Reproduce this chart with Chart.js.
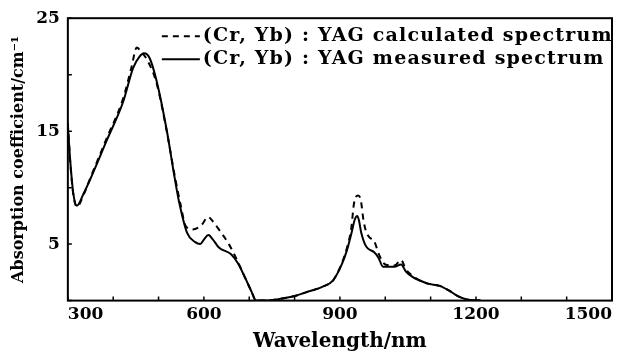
<!DOCTYPE html>
<html>
<head>
<meta charset="utf-8">
<script src="https://cdn.jsdelivr.net/npm/chart.js@4.4.1/dist/chart.umd.min.js"></script>
<style>
  html, body { margin: 0; padding: 0; background: #fff; }
  #wrap { width: 630px; height: 354px; position: relative; }
</style>
</head>
<body>
<div id="wrap"><canvas id="spectrum"></canvas></div>
<script>
// wavelength (nm) / absorption coefficient (cm^-1)
const measuredWl  = [300, 305, 312, 320, 335, 350, 386, 422, 444, 458, 468, 480, 496, 518, 535, 545, 563, 580, 592, 600, 610, 620, 633, 660, 675, 690, 705, 715, 740, 760, 800, 830, 860, 885, 905, 915, 925, 933, 938, 942, 947, 955, 962, 975, 985, 995, 1020, 1035, 1045, 1060, 1075, 1094, 1120, 1140, 1160, 1180, 1210];
const measuredAbs = [15.5, 12.5, 9.5, 8.4, 9.5, 10.8, 14.2, 17.6, 20.6, 21.6, 21.9, 21.5, 19.4, 15.1, 11.0, 8.8, 6.0, 5.2, 5.0, 5.4, 5.8, 5.4, 4.7, 4.1, 3.3, 2.1, 0.8, 0.0, 0.0, 0.1, 0.4, 0.8, 1.2, 1.8, 3.3, 4.4, 5.9, 7.2, 7.5, 7.1, 6.0, 5.0, 4.6, 4.3, 3.8, 3.0, 3.0, 3.2, 2.6, 2.1, 1.8, 1.5, 1.3, 0.9, 0.4, 0.1, 0.0];

const calcWl  = [300, 305, 312, 320, 335, 350, 386, 422, 440, 452, 462, 475, 496, 518, 535, 548, 560, 575, 595, 609, 620, 633, 655, 673, 690, 705, 715, 740, 760, 800, 830, 860, 885, 905, 915, 925, 931, 940, 946, 952, 957, 965, 975, 987, 1000, 1020, 1035, 1045, 1060, 1075, 1094, 1120, 1140, 1160, 1180, 1210];
const calcAbs = [15.7, 12.4, 9.4, 8.3, 9.4, 10.9, 14.4, 17.9, 20.6, 22.4, 22.0, 21.3, 19.2, 15.0, 11.2, 8.6, 6.6, 6.3, 6.7, 7.4, 7.0, 6.3, 5.0, 3.6, 2.1, 0.8, 0.0, 0.0, 0.1, 0.4, 0.8, 1.2, 1.8, 3.4, 4.6, 6.4, 8.6, 9.3, 8.9, 7.1, 6.2, 5.6, 5.3, 4.0, 3.2, 3.1, 3.6, 2.8, 2.2, 1.8, 1.5, 1.3, 0.9, 0.4, 0.1, 0.0];

const xTickLabels = [300, 600, 900, 1200, 1500];
const yTickLabels = [5, 15, 25];
const seriesNames = ["(Cr, Yb) : YAG calculated spectrum", "(Cr, Yb) : YAG measured spectrum"];

const SERIF = "'DejaVu Serif', 'Liberation Serif', serif";

const toPoints = (xs, ys) => xs.map((x, i) => ({ x, y: ys[i] }));

// box round the plot + short inward tick marks (left and bottom only)
const frame = {
  id: "frame",
  afterDatasetsDraw(chart) {
    const { ctx, chartArea: a, scales: { x, y } } = chart;
    ctx.save();
    ctx.strokeStyle = "#000";
    ctx.lineWidth = 2;
    ctx.strokeRect(a.left, a.top, a.right - a.left, a.bottom - a.top);
    ctx.lineWidth = 1.5;
    ctx.beginPath();
    x.ticks.forEach(t => {
      const px = x.getPixelForValue(t.value);
      ctx.moveTo(px, a.bottom); ctx.lineTo(px, a.bottom - 4);
    });
    y.ticks.forEach(t => {
      const py = y.getPixelForValue(t.value);
      ctx.moveTo(a.left, py); ctx.lineTo(a.left + 4, py);
    });
    ctx.stroke();
    ctx.restore();
  }
};

// legend sitting inside the plot, top right, left-aligned rows
const inlineLegend = {
  id: "inlineLegend",
  afterDraw(chart, args, opts) {
    const { ctx, chartArea: a } = chart;
    ctx.save();
    ctx.font = opts.font;
    ctx.letterSpacing = opts.spacing;
    ctx.fillStyle = "#000";
    ctx.textBaseline = "middle";
    chart.data.datasets.forEach((ds, i) => {
      const yy = a.top + opts.top + i * opts.rowGap;
      const x0 = a.left + opts.left;
      ctx.strokeStyle = ds.borderColor;
      ctx.lineWidth = ds.borderWidth;
      ctx.setLineDash(ds.borderDash || []);
      ctx.beginPath();
      ctx.moveTo(x0, yy); ctx.lineTo(x0 + opts.sample, yy);
      ctx.stroke();
      ctx.setLineDash([]);
      ctx.fillText(ds.label, x0 + opts.sample + 3, yy);
    });
    ctx.restore();
  }
};

new Chart(document.getElementById("spectrum"), {
  type: "line",
  data: {
    datasets: [
      { label: seriesNames[0], data: toPoints(calcWl, calcAbs),
        borderColor: "#000", borderWidth: 2, borderDash: [6, 5],
        pointRadius: 0, cubicInterpolationMode: "monotone", fill: false },
      { label: seriesNames[1], data: toPoints(measuredWl, measuredAbs),
        borderColor: "#000", borderWidth: 2,
        pointRadius: 0, cubicInterpolationMode: "monotone", fill: false },
    ],
  },
  options: {
    responsive: true, maintainAspectRatio: false,
    animation: false,
    layout: { padding: { left: 6, right: 18, top: 11, bottom: 0 } },
    plugins: {
      legend: { display: false },
      tooltip: { enabled: false },
      inlineLegend: { font: "bold 19px " + SERIF, spacing: "1.2px", left: 94, top: 18, rowGap: 23, sample: 38 },
    },
    scales: {
      x: {
        type: "linear", min: 300, max: 1500,
        grid: { display: false, drawTicks: false },
        border: { display: false },
        ticks: {
          stepSize: 100, autoSkip: false, maxRotation: 0, padding: 4, align: "inner",
          color: "#000", font: { family: SERIF, size: 17, weight: "bold" },
          callback: v => xTickLabels.includes(v) ? v : "",
        },
        title: { display: true, text: "Wavelength/nm", color: "#000",
                 font: { family: SERIF, size: 20, weight: "bold" }, padding: { top: 1, bottom: 0 } },
      },
      y: {
        min: 0, max: 25,
        grid: { display: false, drawTicks: false },
        border: { display: false },
        ticks: {
          stepSize: 5, autoSkip: false, padding: 8,
          color: "#000", font: { family: SERIF, size: 17, weight: "bold" },
          callback: v => yTickLabels.includes(v) ? v : "",
        },
        title: { display: true, text: "Absorption coefficient/cm\u207B\u00B9", color: "#000",
                 font: { family: SERIF, size: 16, weight: "bold" }, padding: { top: 3, bottom: 0 } },
      },
    },
  },
  plugins: [frame, inlineLegend],
});
</script>
</body>
</html>
